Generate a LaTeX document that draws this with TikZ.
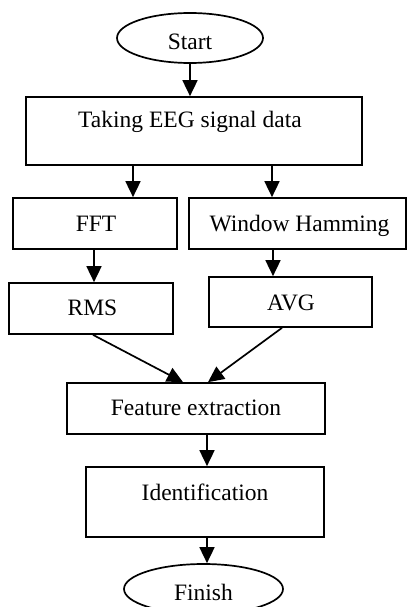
\documentclass[tikz,border=0pt]{standalone}
\usepackage{fontspec}
\setmainfont{Liberation Serif}
\usetikzlibrary{arrows.meta,shapes.geometric}

\tikzset{
  every node/.style={font=\fontsize{23.5}{28}\selectfont, inner sep=0pt},
  box/.style={draw, line width=1.7pt, rectangle},
  oval/.style={draw, line width=1.7pt, ellipse},
  lbl/.style={anchor=base},
  arr/.style={line width=1.7pt, -{Triangle[width=15pt,length=16pt]}},
}

\begin{document}
\begin{tikzpicture}[x=1pt, y=-1pt]
  \useasboundingbox (0,0) rectangle (407,607);

  % shapes
  \node[oval, minimum width=146pt, minimum height=50pt] (start) at (190,38) {};
  \node[box, minimum width=336pt, minimum height=68pt] (taking) at (194,131) {};
  \node[box, minimum width=164pt, minimum height=51pt] (fft) at (95,223.5) {};
  \node[box, minimum width=217pt, minimum height=51pt] (wh) at (297.5,223.5) {};
  \node[box, minimum width=164pt, minimum height=51pt] (rms) at (91,308.5) {};
  \node[box, minimum width=163pt, minimum height=50pt] (avg) at (290.5,302) {};
  \node[box, minimum width=258pt, minimum height=51pt] (feat) at (196,408.5) {};
  \node[box, minimum width=238pt, minimum height=70pt] (ident) at (205,502) {};
  \node[oval, minimum width=159pt, minimum height=50pt] (finish) at (203.5,589) {};

  % texts
  \node[lbl] (tStart) at (190,50) {Start};
  \node[lbl] (tTaking) at (190,128) {Taking EEG signal data};
  \node[lbl] (tFft) at (96,231) {FFT};
  \node[lbl] (tWh) at (299.5,231) {Window Hamming};
  \node[lbl] (tRms) at (92.5,315) {RMS};
  \node[lbl] (tAvg) at (291,310.5) {AVG};
  \node[lbl] (tFeat) at (196,415) {Feature extraction};
  \node[lbl] (tIdent) at (205,500) {Identification};
  \node[lbl] (tFinish) at (203.5,600) {Finish};

  % columns of the vertical connectors
  \coordinate (c1) at (133,0);
  \coordinate (c2) at (272,0);
  \coordinate (c3) at (94,0);
  \coordinate (c4) at (273,0);
  \coordinate (c5) at (207,0);

  % connectors
  \draw[arr] (start.south) -- (start.south |- taking.north);
  \draw[arr] (taking.south -| c1) -- (fft.north -| c1);
  \draw[arr] (taking.south -| c2) -- (wh.north -| c2);
  \draw[arr] (fft.south -| c3) -- (rms.north -| c3);
  \draw[arr] (wh.south -| c4) -- (avg.north -| c4);
  \draw[arr] ([xshift=2pt]rms.south) -- ([xshift=-13pt]feat.north);
  \draw[arr] ([xshift=-8.5pt]avg.south) -- ([xshift=12pt]feat.north);
  \draw[arr] (feat.south -| c5) -- (ident.north -| c5);
  \draw[arr] (ident.south -| c5) -- (finish.north -| c5);
\end{tikzpicture}
\end{document}
